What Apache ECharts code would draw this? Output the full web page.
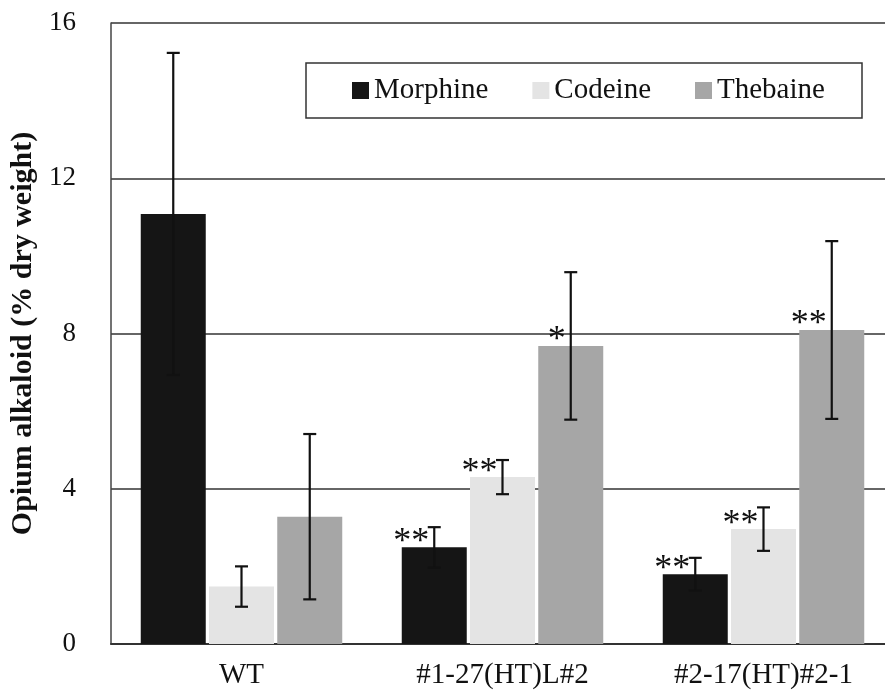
<!DOCTYPE html>
<html>
<head>
<meta charset="utf-8">
<script src="https://cdn.jsdelivr.net/npm/echarts@6/dist/echarts.min.js"></script>
<style>
html,body{margin:0;padding:0;background:#fff;}
#main{width:885px;height:694px;}
</style>
</head>
<body>
<div id="main"></div>
<script>
var categories = ['WT', '#1-27(HT)L#2', '#2-17(HT)#2-1'];
var morphine = [11.08, 2.49, 1.80];
var codeine = [1.48, 4.30, 2.96];
var thebaine = [3.28, 7.68, 8.09];
var morphineErr = [4.15, 0.52, 0.42];
var codeineErr = [0.52, 0.44, 0.56];
var thebaineErr = [2.13, 1.90, 2.29];
var morphineSig = ['', '**', '**'];
var codeineSig = ['', '**', '**'];
var thebaineSig = ['', '*', '**'];

var serif = "'Liberation Serif', 'Times New Roman', serif";
var barW = 65;
var gapRatio = 0.05;

var dom = document.getElementById('main');
var myChart = echarts.init(dom);

// error bar + asterisk for one series (idx 0..2 => offset from category centre)
function errSeries(name, idx, vals, errs, sigs) {
    var data = [];
    for (var i = 0; i < vals.length; i++) {
        data.push([i, vals[i], errs[i], sigs[i]]);
    }
    return {
        name: name + '_err',
        type: 'custom',
        z: 5,
        data: data,
        renderItem: function (params, api) {
            var c = api.coord([api.value(0), api.value(1)]);
            var x = c[0] + (idx - 1) * barW * (1 + gapRatio);
            var top = api.coord([api.value(0), api.value(1) + api.value(2)])[1];
            var bot = api.coord([api.value(0), api.value(1) - api.value(2)])[1];
            var cap = 6.5;
            var st = {stroke: '#111', lineWidth: 2.2};
            var kids = [
                {type: 'line', shape: {x1: x, y1: top, x2: x, y2: bot}, style: st},
                {type: 'line', shape: {x1: x - cap, y1: top, x2: x + cap, y2: top}, style: st},
                {type: 'line', shape: {x1: x - cap, y1: bot, x2: x + cap, y2: bot}, style: st}
            ];
            var s = data[params.dataIndex][3];
            if (s) {
                kids.push({
                    type: 'text',
                    style: {
                        text: s,
                        x: x - 5,
                        y: c[1] - 5,
                        align: 'right',
                        verticalAlign: 'middle',
                        font: '36px ' + serif,
                        fill: '#111'
                    }
                });
            }
            return {type: 'group', children: kids};
        }
    };
}

var option = {
    animation: false,
    backgroundColor: '#fff',
    textStyle: {fontFamily: serif},
    grid: {left: 111, top: 23, bottom: 50, width: 783, outerBoundsMode: 'none'},
    legend: {
        data: ['Morphine', 'Codeine', 'Thebaine'],
        left: 352,
        top: 76,
        padding: 0,
        icon: 'rect',
        itemWidth: 17,
        itemHeight: 17,
        itemGap: 44,
        textStyle: {fontFamily: serif, fontSize: 29, color: '#111'}
    },
    graphic: [{
        type: 'rect',
        shape: {x: 306, y: 63, width: 556, height: 55},
        style: {fill: 'none', stroke: '#333', lineWidth: 1.5},
        z: 10
    }],
    xAxis: {
        type: 'category',
        data: categories,
        axisTick: {show: false},
        axisLine: {lineStyle: {color: '#333', width: 2}},
        axisLabel: {fontFamily: serif, fontSize: 29, color: '#111', margin: 17}
    },
    yAxis: {
        type: 'value',
        min: 0,
        max: 16,
        interval: 4,
        name: 'Opium alkaloid (% dry weight)',
        nameLocation: 'middle',
        nameRotate: 90,
        nameGap: 73,
        nameTextStyle: {fontFamily: serif, fontSize: 30, fontWeight: 'bold', color: '#111'},
        axisLine: {show: true, lineStyle: {color: '#444', width: 1.5}},
        axisTick: {show: false},
        splitLine: {lineStyle: {color: '#333', width: 1.5}},
        axisLabel: {fontFamily: serif, fontSize: 27, color: '#111', margin: 35}
    },
    series: [
        {name: 'Morphine', type: 'bar', data: morphine, barWidth: barW, barGap: '5%', itemStyle: {color: '#151515'}},
        {name: 'Codeine', type: 'bar', data: codeine, barWidth: barW, barGap: '5%', itemStyle: {color: '#e4e4e4'}},
        {name: 'Thebaine', type: 'bar', data: thebaine, barWidth: barW, barGap: '5%', itemStyle: {color: '#a6a6a6'}},
        errSeries('Morphine', 0, morphine, morphineErr, morphineSig),
        errSeries('Codeine', 1, codeine, codeineErr, codeineSig),
        errSeries('Thebaine', 2, thebaine, thebaineErr, thebaineSig)
    ]
};
if (option && typeof option === "object") {
    myChart.setOption(option, true);
}
</script>
</body>
</html>
